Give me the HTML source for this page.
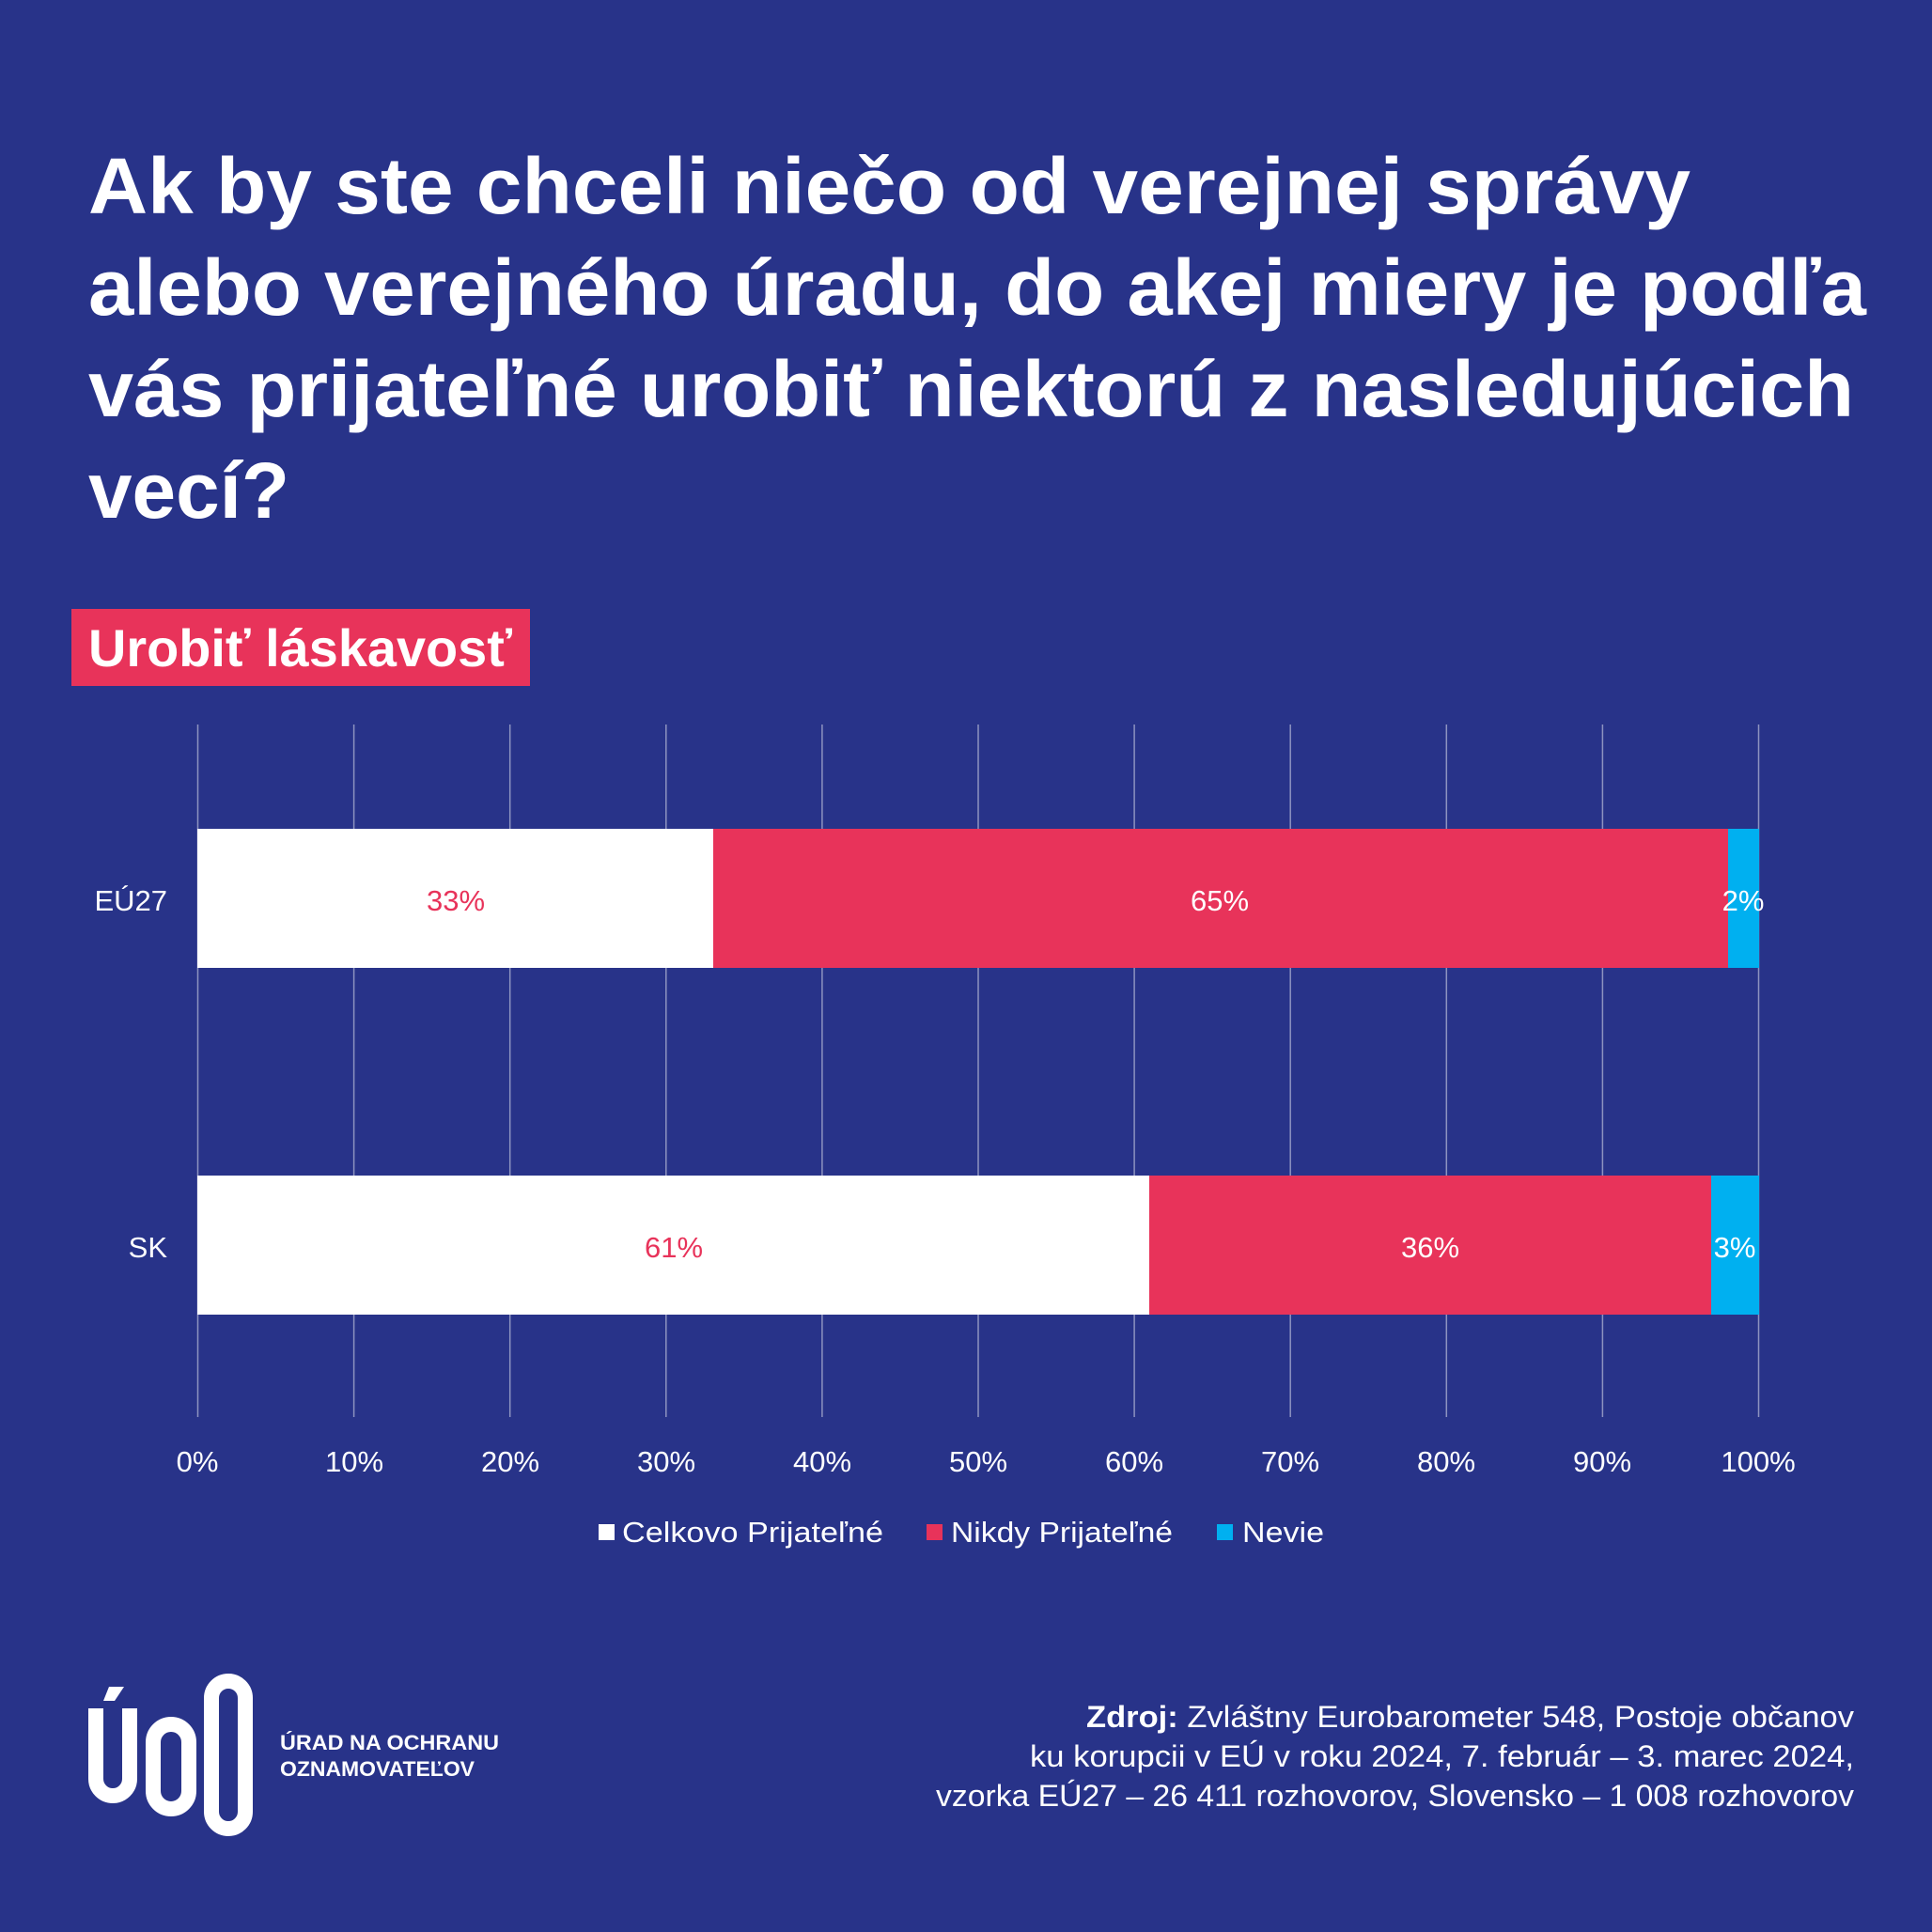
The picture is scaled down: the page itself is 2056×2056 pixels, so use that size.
<!DOCTYPE html>
<html><head><meta charset="utf-8"><style>html,body{margin:0;padding:0;background:#283389;}svg{display:block}</style></head>
<body>
<svg width="2056" height="2056" viewBox="0 0 2056 2056" xmlns="http://www.w3.org/2000/svg" font-family="Liberation Sans, sans-serif">
<rect width="2056" height="2056" fill="#283389"/>
<g fill="#fff" font-weight="bold" font-size="84">
<text x="94" y="227" textLength="1705" lengthAdjust="spacingAndGlyphs">Ak by ste chceli niečo od verejnej správy</text>
<text x="94" y="335" textLength="1892" lengthAdjust="spacingAndGlyphs">alebo verejného úradu, do akej miery je podľa</text>
<text x="94" y="443" textLength="1879" lengthAdjust="spacingAndGlyphs">vás prijateľné urobiť niektorú z nasledujúcich</text>
<text x="94" y="551" textLength="214" lengthAdjust="spacingAndGlyphs">vecí?</text>
</g>
<rect x="76" y="648" width="488" height="82" fill="#e8335a"/>
<text x="94" y="709" fill="#fff" font-weight="bold" font-size="56" textLength="451" lengthAdjust="spacingAndGlyphs">Urobiť láskavosť</text>
<g stroke="#8d93c0" stroke-width="1.5">
<line x1="210.5" y1="771" x2="210.5" y2="1508"/><line x1="376.6" y1="771" x2="376.6" y2="1508"/><line x1="542.7" y1="771" x2="542.7" y2="1508"/><line x1="708.8" y1="771" x2="708.8" y2="1508"/><line x1="874.9" y1="771" x2="874.9" y2="1508"/><line x1="1041" y1="771" x2="1041" y2="1508"/><line x1="1207.1" y1="771" x2="1207.1" y2="1508"/><line x1="1373.2" y1="771" x2="1373.2" y2="1508"/><line x1="1539.3" y1="771" x2="1539.3" y2="1508"/><line x1="1705.4" y1="771" x2="1705.4" y2="1508"/><line x1="1871.5" y1="771" x2="1871.5" y2="1508"/>
</g>
<rect x="210" y="882" width="549" height="148" fill="#fff"/>
<rect x="759" y="882" width="1080" height="148" fill="#e8335a"/>
<rect x="1839" y="882" width="33" height="148" fill="#00b0f0"/>
<rect x="210" y="1251" width="1013" height="148" fill="#fff"/>
<rect x="1223" y="1251" width="598" height="148" fill="#e8335a"/>
<rect x="1821" y="1251" width="51" height="148" fill="#00b0f0"/>
<g font-size="31" text-anchor="middle">
<text x="485" y="969" fill="#e8335a">33%</text>
<text x="1298" y="969" fill="#fff">65%</text>
<text x="1855" y="969" fill="#fff">2%</text>
<text x="717" y="1338" fill="#e8335a">61%</text>
<text x="1522" y="1338" fill="#fff">36%</text>
<text x="1846" y="1338" fill="#fff">3%</text>
</g>
<g font-size="31" fill="#fff" text-anchor="end">
<text x="178" y="969">EÚ27</text>
<text x="178" y="1338">SK</text>
</g>
<g font-size="31" fill="#fff" text-anchor="middle">
<text x="210" y="1566">0%</text><text x="377" y="1566">10%</text><text x="543" y="1566">20%</text><text x="709" y="1566">30%</text><text x="875" y="1566">40%</text><text x="1041" y="1566">50%</text><text x="1207" y="1566">60%</text><text x="1373" y="1566">70%</text><text x="1539" y="1566">80%</text><text x="1705" y="1566">90%</text><text x="1871" y="1566">100%</text>
</g>
<rect x="637" y="1622" width="17" height="17" fill="#fff"/>
<rect x="986" y="1622" width="17" height="17" fill="#e8335a"/>
<rect x="1295" y="1622" width="17" height="17" fill="#00b0f0"/>
<g font-size="31" fill="#fff">
<text x="662" y="1641" textLength="278" lengthAdjust="spacingAndGlyphs">Celkovo Prijateľné</text>
<text x="1012" y="1641" textLength="236" lengthAdjust="spacingAndGlyphs">Nikdy Prijateľné</text>
<text x="1322" y="1641" textLength="87" lengthAdjust="spacingAndGlyphs">Nevie</text>
</g>
<g fill="none" stroke="#fff" stroke-width="16">
<path d="M102 1818 V1893 a18 18 0 0 0 36 0 V1818"/>
<rect x="163" y="1835" width="38" height="90" rx="19"/>
<rect x="225" y="1789" width="36" height="157" rx="18"/>
</g>
<path d="M116 1795 L132 1795 L122 1810 L110 1810 Z" fill="#fff"/>
<g fill="#fff" font-weight="bold" font-size="22">
<text x="298" y="1862" textLength="233" lengthAdjust="spacingAndGlyphs">ÚRAD NA OCHRANU</text>
<text x="298" y="1890" textLength="207" lengthAdjust="spacingAndGlyphs">OZNAMOVATEĽOV</text>
</g>
<g fill="#fff" font-size="32" text-anchor="end">
<text x="1973" y="1838" textLength="817" lengthAdjust="spacingAndGlyphs"><tspan font-weight="bold">Zdroj:</tspan> Zvláštny Eurobarometer 548, Postoje občanov</text>
<text x="1973" y="1880" textLength="877" lengthAdjust="spacingAndGlyphs">ku korupcii v EÚ v roku 2024, 7. február – 3. marec 2024,</text>
<text x="1973" y="1922" textLength="977" lengthAdjust="spacingAndGlyphs">vzorka EÚ27 – 26 411 rozhovorov, Slovensko – 1 008 rozhovorov</text>
</g>
</svg>
</body></html>
